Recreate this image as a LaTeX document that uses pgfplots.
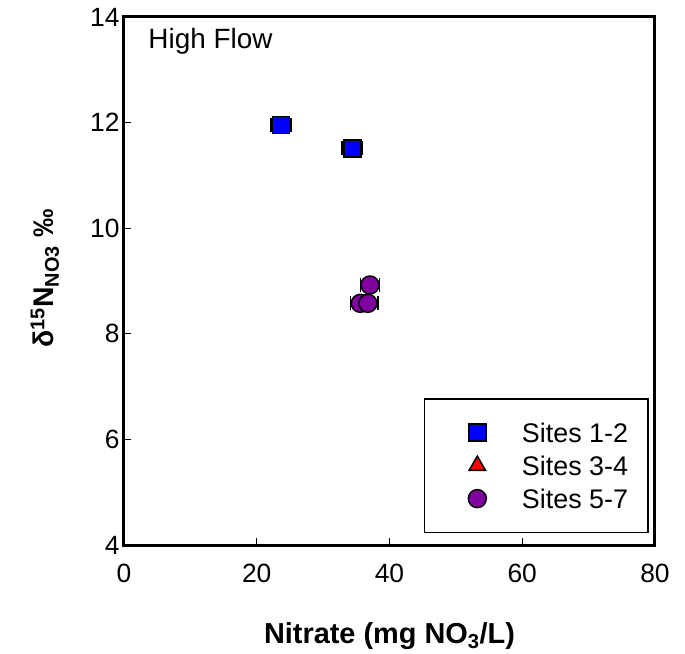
\documentclass[border=0pt]{standalone}
\usepackage{fontspec}
\setmainfont{Liberation Sans}
\usepackage{pgfplots}
\usepackage{pgfplotstable}
\pgfplotsset{compat=1.18}
\definecolor{sqblue}{RGB}{0,0,255}
\definecolor{trired}{RGB}{255,0,0}
\definecolor{cirpurple}{RGB}{128,0,160}

% high flow samples: x = nitrate, y = d15N, ex = x error
\pgfplotstableread{
x y ex
23.65 11.955 1.50
34.40 11.513 1.55
}\sitesA
\pgfplotstableread{
x y ex
35.60 8.577 1.50
36.75 8.577 1.50
37.05 8.924 1.45
}\sitesC

\pgfplotsset{
  legimg/.style={legend image code/.code={%
    \path (-32bp,0bp) (44bp,0bp);
    \draw[##1] plot coordinates {(0bp,0bp)};}},
  ebars/.style={error bars/.cd, x dir=both, x explicit,
    error bar style={black, line width=1.3bp},
    error mark options={black, rotate=90, mark size=7bp, line width=1.4bp}},
}

\begin{document}
\begin{tikzpicture}
\path[use as bounding box] (-124bp,-109bp) rectangle (561bp,545bp);
\begin{axis}[
  at={(0,0)}, anchor=south west,
  scale only axis, width=531bp, height=528bp,
  xmin=0, xmax=80, ymin=4, ymax=14,
  xtick={0,20,...,80}, ytick={4,6,...,14},
  xtick pos=bottom, ytick pos=left,
  tick align=inside, major tick length=7bp,
  every tick/.style={black, line width=1.3bp},
  axis line style={line width=3bp},
  tick label style={font=\fontsize{26.5}{30}\selectfont},
  xticklabel style={yshift=-16bp},
  yticklabel style={xshift=-1bp},
  /pgf/number format/assume math mode=true,
  xlabel={Nitrate (mg NO\textsubscript{3}/L)},
  xlabel style={font=\fontsize{29}{32}\selectfont\bfseries,
    at={(axis description cs:0.5,-0.186)}, anchor=base},
  ylabel={δ\textsuperscript{15}N\textsubscript{NO3} ‰},
  ylabel style={font=\fontsize{28.5}{32}\selectfont\bfseries,
    at={(axis description cs:-0.149,0.505)}, anchor=center},
  legend cell align=left,
  legend style={at={(axis description cs:0.565,0.0227)}, anchor=south west,
    draw=black, line width=1.3bp, fill=white,
    inner xsep=20bp, inner ysep=24bp,
    font=\fontsize{27}{30}\selectfont,
    nodes={inner sep=0pt, text height=19.5bp, text depth=0bp},
    row sep=13.5bp},
]
\addplot[only marks, legimg, mark=square*, mark size=8.5bp,
  mark options={fill=sqblue, draw=black, line width=1.5bp}, ebars]
  table[x=x, y=y, x error=ex] {\sitesA};
\addlegendentry{Sites 1-2}
\addlegendimage{only marks, legimg, mark=triangle*, mark size=9.5bp,
  mark options={fill=trired, draw=black, line width=1.5bp}}
\addlegendentry{Sites 3-4}
\addplot[only marks, legimg, mark=*, mark size=9bp,
  mark options={fill=cirpurple, draw=black, line width=1.5bp}, ebars]
  table[x=x, y=y, x error=ex] {\sitesC};
\addlegendentry{Sites 5-7}
\node[anchor=base west, font=\fontsize{28}{32}\selectfont]
  at (axis description cs:0.0395,0.941) {High Flow};
\end{axis}
\end{tikzpicture}
\end{document}
